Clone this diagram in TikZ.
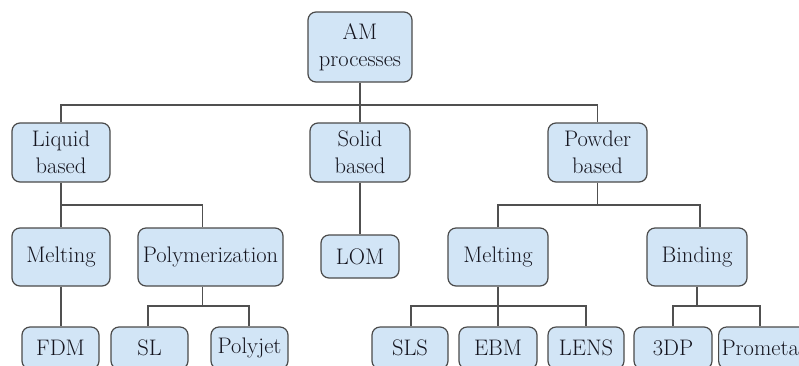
\documentclass[tikz,border=0pt]{standalone}
\definecolor{boxfill}{HTML}{D2E5F6}
\definecolor{boxline}{HTML}{4A4A4A}
\definecolor{conn}{HTML}{505050}
\definecolor{txt}{HTML}{15151F}
\begin{document}
\begin{tikzpicture}[x=1pt,y=-1pt,
  box/.style={draw=boxline,fill=boxfill,line width=1.2pt,rounded corners=8pt,
    inner sep=0pt,align=center,text=txt,font=\fontsize{22.5}{27}\selectfont},
  link/.style={draw=conn,line width=1.2pt}]
\useasboundingbox (0,0) rectangle (799,365);
\clip (0,0) rectangle (799,365);
% level 1
\node[box,minimum width=104pt,minimum height=70pt] (am) at (360,47) {AM\\processes};
% level 2
\node[box,minimum width=98pt,minimum height=59pt] (liq) at (61,152.5) {Liquid\\based};
\node[box,minimum width=100pt,minimum height=59pt] (sol) at (360,152.5) {Solid\\based};
\node[box,minimum width=99pt,minimum height=59pt] (pow) at (597.5,152.5) {Powder\\based};
% level 3
\node[box,minimum width=98pt,minimum height=58pt] (melL) at (61,257) {Melting};
\node[box,minimum width=145pt,minimum height=58pt] (poly) at (210.5,257) {Polymerization};
\node[box,minimum width=78pt,minimum height=43pt] (lom) at (360,256.5) {LOM};
\node[box,minimum width=100pt,minimum height=58pt] (melR) at (498,257) {Melting};
\node[box,minimum width=100pt,minimum height=58pt] (bind) at (697,257) {Binding};
% level 4
\node[box,minimum width=77pt,minimum height=42pt] (fdm) at (60.5,348) {FDM};
\node[box,minimum width=77pt,minimum height=42pt] (sl) at (149.5,348) {SL};
\node[box,minimum width=77pt,minimum height=42pt] (polyjet) at (249.5,348) {Polyjet};
\node[box,minimum width=76pt,minimum height=42pt] (sls) at (410,348) {SLS};
\node[box,minimum width=78pt,minimum height=42pt] (ebm) at (498,348) {EBM};
\node[box,minimum width=76pt,minimum height=42pt] (lens) at (586,348) {LENS};
\node[box,minimum width=78pt,minimum height=42pt] (tdp) at (673,348) {3DP};
\node[box,minimum width=86pt,minimum height=42pt,anchor=west] (prom) at (718,348) {\hspace*{3pt}Prometal\hspace*{3pt}};
% bar coordinates
\coordinate (b1) at (360,105);
\coordinate (b2) at (61,205);
\coordinate (b3) at (202.5,306);
\coordinate (b4) at (597.5,205);
\coordinate (b5) at (498,306);
\coordinate (b6) at (697,306);
% connectors
\draw[link] (am.south) -- (b1);
\draw[link] (liq.north) |- (b1) -| (pow.north);
\draw[link] (b1) -- (sol.north);
\draw[link] (liq.south) -- (melL.north);
\draw[link] (b2) -| ([xshift=-8pt]poly.north);
\draw[link] ([xshift=-8pt]poly.south) -- (b3);
\draw[link] ([xshift=-1.5pt]sl.north) |- (b3) -| ([xshift=-0.5pt]polyjet.north);
\draw[link] (melL.south) -- (melL.south |- fdm.north);
\draw[link] (sol.south) -- (lom.north);
\draw[link] (pow.south) -- (b4);
\draw[link] (melR.north) |- (b4) -| ([xshift=3pt]bind.north);
\draw[link] (melR.south) -- (ebm.north);
\draw[link] ([xshift=1pt]sls.north) |- (b5) -| (lens.north);
\draw[link] (bind.south) -- (b6);
\draw[link] (tdp.north) |- (b6) -| (prom.north -| 760,0);
\end{tikzpicture}
\end{document}
